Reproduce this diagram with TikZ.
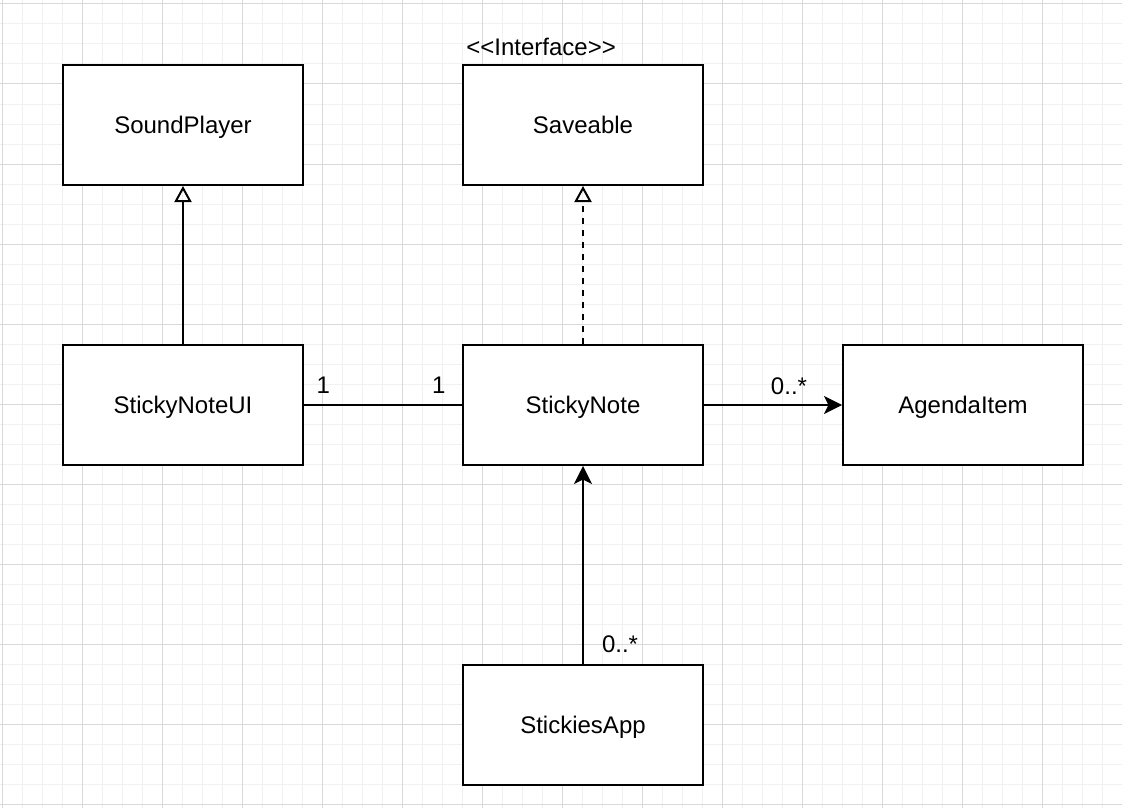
\documentclass[tikz,border=0pt]{standalone}
\usepackage{fontspec}
\setmainfont{Liberation Sans}[Ligatures=TeXOff]
\usetikzlibrary{arrows.meta}
\definecolor{gridminor}{HTML}{F1F1F1}
\definecolor{gridmajor}{HTML}{D9D9D9}
\begin{document}
\begin{tikzpicture}[x=0.5pt, y=-0.5pt,
    cls/.style={draw, line width=1pt, fill=white, minimum width=120pt,
      minimum height=60pt, inner sep=0pt, text height=8.6pt, text depth=0pt,
      font=\fontsize{12}{14}\selectfont},
    mult/.style={inner sep=0pt, font=\fontsize{12}{14}\selectfont},
    conn/.style={line width=1pt},
    realize/.style={conn, -{Triangle[open, length=8pt, width=8.5pt]}},
    assoc/.style={conn, -{Stealth[length=9pt, width=9pt, inset=2.2pt]}}]
    \useasboundingbox (0,0) rectangle (1122,808);
    \fill[white] (0,0) rectangle (1122,808);
    \foreach \x in {2,22,...,1122}
      \draw[gridminor, line width=0.5pt] (\x,0) -- (\x,808);
    \foreach \y in {4,24,...,804}
      \draw[gridminor, line width=0.5pt] (0,\y) -- (1122,\y);
    \foreach \x in {2,82,...,1122}
      \draw[gridmajor, line width=0.5pt] (\x,0) -- (\x,808);
    \foreach \y in {4,84,...,804}
      \draw[gridmajor, line width=0.5pt] (0,\y) -- (1122,\y);

    \node[cls] (sound) at (183,125) {SoundPlayer};
    \node[cls] (saveable) at (583,125) {Saveable};
    \node[cls] (ui) at (183,405) {StickyNoteUI};
    \node[cls] (note) at (583,405) {StickyNote};
    \node[cls] (agenda) at (963,405) {AgendaItem};
    \node[cls] (app) at (583,725) {StickiesApp};
    \node[mult, anchor=base west, xshift=2pt, yshift=4pt] (iface)
      at (saveable.north west) {<<Interface>>};

    \draw[realize] (ui) -- (sound);
    \draw[realize, dash pattern=on 3pt off 3pt] (note) -- (saveable);
    \draw[conn] (ui) --
      node[mult, pos=0, anchor=base west, xshift=5.75pt, yshift=6pt] (ui-mult) {1}
      node[mult, pos=1, anchor=base east, xshift=-7.75pt, yshift=6pt] (note-mult) {1}
      (note);
    \draw[assoc] (note) --
      node[mult, pos=1, anchor=base east, xshift=-17pt, yshift=5.5pt] (agenda-mult) {0..*}
      (agenda);
    \draw[assoc] (app) --
      node[mult, pos=0, anchor=base west, xshift=9pt, yshift=6pt] (app-mult) {0..*}
      (note);
  \end{tikzpicture}
\end{document}
